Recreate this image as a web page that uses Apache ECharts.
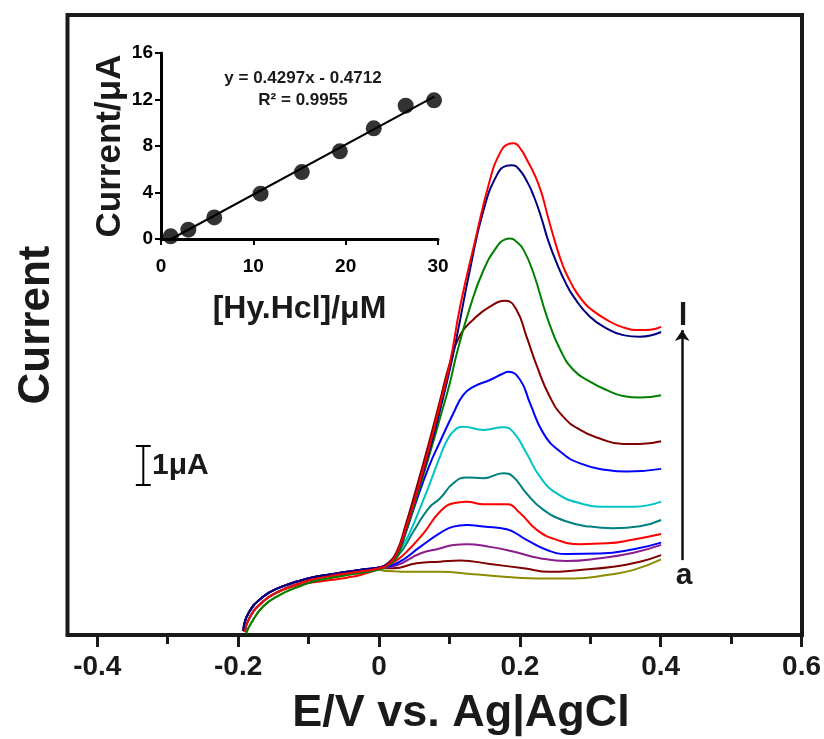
<!DOCTYPE html>
<html>
<head>
<meta charset="utf-8">
<script src="https://cdn.jsdelivr.net/npm/echarts@6/dist/echarts.min.js"></script>
<style>
  html, body { margin: 0; padding: 0; background: #fff; }
  #main { width: 824px; height: 739px; }
</style>
</head>
<body>
<div id="main"></div>
<script>
//------------------------------= data: DPV curves (E/V, I/uA) =------------------------------
// shared shapes of the early part of the scan
var startUpper = [[-0.193,0.10],[-0.186,0.55],[-0.165,0.98],[-0.141,1.22],[-0.117,1.37],[-0.094,1.48],[-0.070,1.55],[-0.046,1.62],[-0.023,1.68],[0,1.73]];
var startMid   = [[-0.191,0.08],[-0.184,0.45],[-0.165,0.86],[-0.141,1.13],[-0.117,1.30],[-0.094,1.43],[-0.070,1.51],[-0.046,1.58],[-0.023,1.64],[0,1.71]];
var startLow   = [[-0.189,0.05],[-0.182,0.30],[-0.165,0.73],[-0.141,1.03],[-0.117,1.22],[-0.094,1.37],[-0.070,1.46],[-0.046,1.54],[-0.023,1.60],[0,1.68]];
var startDip   = [[-0.191,0.08],[-0.184,0.45],[-0.165,0.86],[-0.141,1.12],[-0.117,1.27],[-0.094,1.35],[-0.070,1.41],[-0.046,1.47],[-0.023,1.56],[0,1.70]];

var curveA = startLow.concat([[0.006,1.65],[0.053,1.62],[0.086,1.62],[0.134,1.56],[0.181,1.49],[0.228,1.45],[0.276,1.45],[0.323,1.54],[0.361,1.67],[0.400,1.94]]);
var curveB = startMid.concat([[0.020,1.71],[0.053,1.84],[0.086,1.88],[0.115,1.91],[0.157,1.82],[0.205,1.71],[0.242,1.62],[0.285,1.67],[0.332,1.75],[0.370,1.88],[0.400,2.05]]);
var curveC = startMid.concat([[0.025,1.79],[0.058,2.09],[0.086,2.22],[0.105,2.31],[0.124,2.33],[0.157,2.26],[0.190,2.14],[0.228,1.97],[0.266,1.90],[0.313,1.97],[0.361,2.11],[0.400,2.31]]);
var curveD = startUpper.concat([[0.025,1.84],[0.058,2.26],[0.086,2.61],[0.105,2.78],[0.124,2.82],[0.148,2.78],[0.181,2.71],[0.209,2.44],[0.238,2.18],[0.266,2.08],[0.313,2.09],[0.361,2.20],[0.400,2.37]]);
var curveE = startDip.concat([[0.025,1.92],[0.045,2.25],[0.063,2.61],[0.086,3.16],[0.105,3.38],[0.124,3.42],[0.148,3.35],[0.181,3.35],[0.200,3.12],[0.224,2.69],[0.252,2.44],[0.285,2.33],[0.323,2.35],[0.361,2.45],[0.400,2.59]]);
var curveF = startMid.concat([[0.025,2.00],[0.050,2.70],[0.070,3.25],[0.086,3.50],[0.105,3.89],[0.124,4.04],[0.148,4.02],[0.176,4.15],[0.190,4.06],[0.209,3.63],[0.233,3.21],[0.266,2.91],[0.299,2.78],[0.332,2.74],[0.370,2.79],[0.400,2.95]]);
var curveG = startMid.concat([[0.012,1.80],[0.025,2.05],[0.035,2.35],[0.044,2.65],[0.060,3.35],[0.072,3.90],[0.086,4.57],[0.095,4.95],[0.105,5.22],[0.119,5.34],[0.148,5.26],[0.176,5.33],[0.190,5.21],[0.209,4.66],[0.228,4.06],[0.252,3.63],[0.285,3.38],[0.323,3.29],[0.361,3.29],[0.400,3.42]]);
var curveH = startUpper.concat([[0.012,1.82],[0.025,2.05],[0.037,2.60],[0.050,3.30],[0.070,4.30],[0.086,4.95],[0.105,5.68],[0.119,6.15],[0.134,6.37],[0.157,6.54],[0.175,6.70],[0.183,6.75],[0.200,6.54],[0.214,5.94],[0.233,5.17],[0.257,4.70],[0.285,4.40],[0.323,4.23],[0.351,4.19],[0.400,4.26]]);
var curveI = startUpper.concat([[0.012,1.84],[0.025,2.15],[0.037,2.80],[0.050,3.60],[0.070,4.90],[0.086,6.00],[0.100,6.97],[0.115,7.70],[0.134,8.10],[0.157,8.42],[0.179,8.57],[0.195,8.33],[0.209,7.65],[0.224,6.88],[0.242,6.11],[0.261,5.60],[0.285,5.26],[0.313,5.04],[0.346,4.90],[0.370,4.90],[0.400,4.97]]);
var curveJ = startLow.concat([[0.012,1.78],[0.025,2.00],[0.037,2.60],[0.050,3.35],[0.070,4.55],[0.086,5.55],[0.100,6.45],[0.110,7.22],[0.129,8.42],[0.148,9.36],[0.167,9.96],[0.178,10.14],[0.186,10.17],[0.195,10.08],[0.205,9.87],[0.219,9.27],[0.238,8.16],[0.257,7.31],[0.276,6.79],[0.299,6.50],[0.323,6.28],[0.346,6.13],[0.370,6.09],[0.400,6.15]]);
var curveK = startUpper.concat([[0.012,1.82],[0.025,2.10],[0.037,2.68],[0.050,3.45],[0.070,4.65],[0.086,5.75],[0.100,6.80],[0.110,7.65],[0.129,9.40],[0.148,10.90],[0.167,11.80],[0.180,12.03],[0.188,12.05],[0.198,11.95],[0.210,11.62],[0.220,11.22],[0.230,10.70],[0.240,10.10],[0.252,9.53],[0.264,9.05],[0.276,8.67],[0.299,8.16],[0.323,7.86],[0.346,7.69],[0.370,7.65],[0.385,7.68],[0.400,7.77]]);
var curveL = startMid.concat([[0.012,1.80],[0.025,2.10],[0.037,2.70],[0.050,3.45],[0.070,4.75],[0.086,5.90],[0.100,6.95],[0.115,8.45],[0.134,9.96],[0.157,11.67],[0.171,12.35],[0.182,12.58],[0.191,12.61],[0.200,12.48],[0.210,12.17],[0.220,11.82],[0.230,11.35],[0.240,10.68],[0.250,10.05],[0.260,9.50],[0.270,9.10],[0.280,8.78],[0.290,8.54],[0.300,8.36],[0.323,8.08],[0.346,7.89],[0.370,7.82],[0.385,7.83],[0.400,7.90]]);

var curves = [curveA, curveB, curveC, curveD, curveE, curveF, curveG, curveH, curveI, curveJ, curveK, curveL];
var curveColors = ['#8c8c00','#800000','#8b1c8b','#0000ff','#ff0000','#008080','#00c4c4','#0000ff','#800000','#008000','#000080','#ff0000'];
var xTicks = [-0.4, -0.2, 0, 0.2, 0.4, 0.6];

//------------------------------= data: inset calibration =------------------------------
var concUM = [1.05, 2.96, 5.77, 10.78, 15.25, 19.37, 23.04, 26.5, 29.57];
var peakUA = [0.23, 0.80, 1.86, 3.90, 5.76, 7.54, 9.52, 11.47, 11.93];
var fitLine = [[1.1, 0], [29.6, 12.25]];
var fitText = ['y = 0.4297x - 0.4712', 'R\u00b2 = 0.9955'];

// scale bar (1 uA) and arrow a -> l
var barX = -0.335, barLow = 3.85, barHigh = 4.85, barCap = 0.0106;
var arrowX = 0.430, arrowLow = 1.92, arrowHigh = 7.82;

var chart = echarts.init(document.getElementById('main'));
var bold = 'Liberation Sans';

var series = [];
for (var i = 0; i < curves.length; i++) {
  series.push({
    type: 'line', xAxisIndex: 0, yAxisIndex: 0,
    data: curves[i], smooth: 0.5, showSymbol: false, silent: true,
    lineStyle: { color: curveColors[i], width: 2 }
  });
}

// scale bar
series.push({
  type: 'line', xAxisIndex: 0, yAxisIndex: 0, showSymbol: false, silent: true,
  data: [[barX, barLow], [barX, barHigh]],
  lineStyle: { color: '#000', width: 2 },
  markLine: {
    silent: true, symbol: 'none', label: { show: false },
    lineStyle: { color: '#000', width: 2, type: 'solid' },
    data: [
      [{ coord: [barX - barCap, barHigh] }, { coord: [barX + barCap, barHigh] }],
      [{ coord: [barX - barCap, barLow] }, { coord: [barX + barCap, barLow] }]
    ]
  }
});
// arrow
series.push({
  type: 'line', xAxisIndex: 0, yAxisIndex: 0, showSymbol: false, silent: true,
  data: [],
  markLine: {
    silent: true, symbol: ['none', 'arrow'], symbolSize: 11, label: { show: false },
    lineStyle: { color: '#111', width: 2.5, type: 'solid' },
    data: [[{ coord: [arrowX, arrowLow] }, { coord: [arrowX, arrowHigh] }]]
  }
});

// inset
series.push({
  type: 'line', xAxisIndex: 2, yAxisIndex: 2, showSymbol: false, silent: true,
  data: fitLine, lineStyle: { color: '#000', width: 2 }
});
series.push({
  type: 'scatter', xAxisIndex: 2, yAxisIndex: 2, silent: true,
  data: concUM.map(function (c, k) { return [c, peakUA[k]]; }),
  symbolSize: 16, itemStyle: { color: '#000' }
});

var option = {
  animation: false,
  backgroundColor: '#fff',
  grid: [
    { left: 67.5, right: 22, top: 15, bottom: 104, show: true, borderColor: '#1a1a1a', borderWidth: 4 },
    { left: 97.3, right: 22, top: 15, bottom: 104 },
    { left: 161, top: 53, width: 277, height: 186 }
  ],
  xAxis: [
    { gridIndex: 0, type: 'value', min: -0.4426, max: 0.6, show: false },
    { gridIndex: 1, type: 'value', min: xTicks[0], max: xTicks[xTicks.length - 1], interval: 0.2,
      axisLine: { show: false }, splitLine: { show: false },
      axisTick: { show: true, length: 12, lineStyle: { color: '#1a1a1a', width: 3 } },
      minorTick: { show: true, splitNumber: 2, length: 9, lineStyle: { color: '#1a1a1a', width: 3 } },
      axisLabel: { margin: 18, color: '#1a1a1a', fontFamily: bold, fontWeight: 'bold', fontSize: 28,
        formatter: function (v) { return String(+v.toFixed(1)); } } },
    { gridIndex: 2, type: 'value', min: 0, max: 30, interval: 10,
      axisLine: { lineStyle: { color: '#000', width: 3 } }, splitLine: { show: false },
      axisTick: { length: 6, lineStyle: { color: '#000', width: 2 } },
      axisLabel: { margin: 18, color: '#000', fontFamily: bold, fontWeight: 'bold', fontSize: 19 },
      name: '[Hy.Hcl]/\u03bcM', nameLocation: 'middle', nameGap: 54,
      nameTextStyle: { color: '#1a1a1a', fontFamily: bold, fontWeight: 'bold', fontSize: 32 } }
  ],
  yAxis: [
    { gridIndex: 0, type: 'value', min: 0, max: 15.9, show: false },
    { gridIndex: 1, type: 'value', min: 0, max: 15.9, show: false },
    { gridIndex: 2, type: 'value', min: 0, max: 16, interval: 4,
      axisLine: { show: true, lineStyle: { color: '#000', width: 3 } }, splitLine: { show: false },
      axisTick: { show: true, length: 6, lineStyle: { color: '#000', width: 2 } },
      axisLabel: { margin: 8, color: '#000', fontFamily: bold, fontWeight: 'bold', fontSize: 19 },
      name: 'Current/\u03bcA', nameLocation: 'middle', nameGap: 25,
      nameTextStyle: { color: '#1a1a1a', fontFamily: bold, fontWeight: 'bold', fontSize: 35 } }
  ],
  graphic: [
    { type: 'text', x: 37, y: 325, rotation: Math.PI / 2,
      style: { text: 'Current', fill: '#1a1a1a', font: 'bold 44px "Liberation Sans"', textAlign: 'center', textVerticalAlign: 'middle' } },
    { type: 'text', x: 461, y: 714,
      style: { text: 'E/V vs. Ag|AgCl', fill: '#1a1a1a', font: 'bold 45px "Liberation Sans"', textAlign: 'center', textVerticalAlign: 'middle' } },
    { type: 'text', x: 303, y: 78,
      style: { text: fitText[0], fill: '#1a1a1a', font: 'bold 17px "Liberation Sans"', textAlign: 'center', textVerticalAlign: 'middle' } },
    { type: 'text', x: 303, y: 100,
      style: { text: fitText[1], fill: '#1a1a1a', font: 'bold 17px "Liberation Sans"', textAlign: 'center', textVerticalAlign: 'middle' } },
    { type: 'text', x: 152, y: 466,
      style: { text: '1\u03bcA', fill: '#1a1a1a', font: 'bold 30px "Liberation Sans"', textAlign: 'left', textVerticalAlign: 'middle' } },
    { type: 'text', x: 683, y: 316,
      style: { text: 'l', fill: '#1a1a1a', font: 'bold 31px "Liberation Sans"', textAlign: 'center', textVerticalAlign: 'middle' } },
    { type: 'text', x: 684, y: 576,
      style: { text: 'a', fill: '#1a1a1a', font: 'bold 30px "Liberation Sans"', textAlign: 'center', textVerticalAlign: 'middle' } }
  ],
  series: series
};

chart.setOption(option);
</script>
</body>
</html>
